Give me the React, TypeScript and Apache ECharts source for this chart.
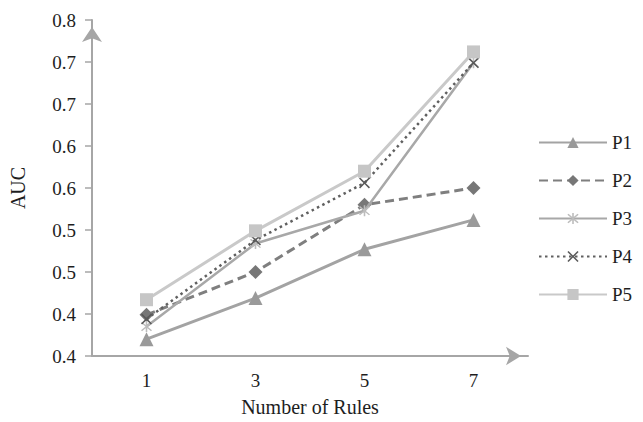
import React, { useEffect, useRef } from "react";
import * as echarts from "echarts";

// Categories on the x axis (number of rules)
const ruleCounts = ["1", "3", "5", "7"];

// AUC per parameter setting
const p1 = [0.42, 0.469, 0.527, 0.562];
const p2 = [0.449, 0.5, 0.58, 0.6];
const p3 = [0.435, 0.534, 0.573, 0.749];
const p4 = [0.444, 0.538, 0.606, 0.749];
const p5 = [0.467, 0.549, 0.62, 0.762];

// Printed y tick labels (one decimal, as displayed)
const yTickLabels = ["0.4", "0.4", "0.5", "0.5", "0.6", "0.6", "0.7", "0.7", "0.8"];

const seriesNames = ["P1", "P2", "P3", "P4", "P5"];

const FONT = "'Liberation Serif', 'Times New Roman', serif";
const FS = 19;
const FS_NAME = 20;
const TEXT = "#1e1e1e";

const asteriskPath =
  "path://M4.4,0 L5.6,0 L5.6,10 L4.4,10 Z M0.8,1.6 L1.6,0.8 L9.2,8.4 L8.4,9.2 Z M8.4,0.8 L9.2,1.6 L1.6,9.2 L0.8,8.4 Z";
const crossPath =
  "path://M0,1 L1,0 L5,4 L9,0 L10,1 L6,5 L10,9 L9,10 L5,6 L1,10 L0,9 L4,5 Z";

export default function App() {
  const ref = useRef<HTMLDivElement>(null);

  useEffect(() => {
    if (!ref.current) return;
    const chart = echarts.init(ref.current, undefined, { renderer: "svg" });

    const styles = [
      { data: p1, line: "#a3a3a3", mark: "#9a9a9a", type: "solid" as any, width: 3, symbol: "triangle", size: 14 },
      { data: p2, line: "#7f7f7f", mark: "#777777", type: [9, 5] as any, width: 3, symbol: "diamond", size: 14 },
      { data: p3, line: "#a8a8a8", mark: "#bdbdbd", type: "solid" as any, width: 2.5, symbol: asteriskPath, size: 11 },
      { data: p4, line: "#606060", mark: "#5a5a5a", type: [2.5, 3.5] as any, width: 2.5, symbol: crossPath, size: 11 },
      { data: p5, line: "#c9c9c9", mark: "#c6c6c6", type: "solid" as any, width: 3, symbol: "rect", size: 13 },
    ];

    chart.setOption({
      animation: false,
      backgroundColor: "#ffffff",
      textStyle: { fontFamily: FONT },
      grid: { left: 88, right: 115, top: 20, bottom: 62, containLabel: false },
      legend: {
        orient: "vertical",
        left: 533,
        top: 128,
        itemWidth: 68,
        itemHeight: 14,
        itemGap: 19,
        textStyle: { fontFamily: FONT, fontSize: FS, color: TEXT, lineHeight: 19, padding: [0, 0, 0, 0] },
        data: seriesNames,
      },
      xAxis: {
        type: "category",
        data: ruleCounts,
        boundaryGap: true,
        name: "Number of Rules",
        nameLocation: "middle",
        nameGap: 41,
        nameTextStyle: { fontFamily: FONT, fontSize: FS_NAME, color: TEXT },
        axisLine: {
          show: true,
          symbol: ["none", "arrow"],
          symbolSize: [14, 15],
          symbolOffset: [0, -7],
          lineStyle: { color: "#a6a6a6", width: 2 },
        },
        axisTick: { show: false },
        axisLabel: { fontFamily: FONT, fontSize: FS, color: TEXT, margin: 15 },
        splitLine: { show: false },
      },
      yAxis: {
        type: "value",
        min: 0.4,
        max: 0.8,
        interval: 0.05,
        name: "AUC",
        nameLocation: "middle",
        nameGap: 64,
        nameRotate: 90,
        nameTextStyle: { fontFamily: FONT, fontSize: FS_NAME, color: TEXT },
        axisLine: {
          show: true,
          symbol: ["none", "arrow"],
          symbolSize: [15, 15],
          symbolOffset: [0, -7],
          lineStyle: { color: "#a6a6a6", width: 2 },
        },
        axisTick: { show: true, length: 7, lineStyle: { color: "#a6a6a6", width: 1.5 } },
        axisLabel: {
          fontFamily: FONT,
          fontSize: FS,
          color: TEXT,
          margin: 16,
          formatter: (_v: number, idx: number) => yTickLabels[idx] ?? "",
        },
        splitLine: { show: false },
      },
      series: styles.map((s, i) => ({
        name: seriesNames[i],
        type: "line",
        data: s.data,
        symbol: s.symbol,
        symbolSize: s.size,
        showAllSymbol: true,
        lineStyle: { color: s.line, width: s.width, type: s.type },
        itemStyle: { color: s.mark, borderWidth: 0 },
        emphasis: { disabled: true },
        z: 2 + i,
      })),
    });

    return () => chart.dispose();
  }, []);

  return <div ref={ref} style={{ width: 643, height: 422, margin: -8 }} />;
}
